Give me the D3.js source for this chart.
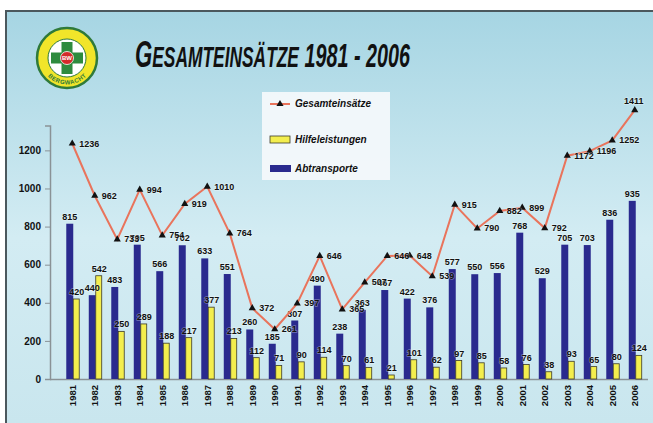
<!DOCTYPE html>
<html>
<head>
<meta charset="utf-8">
<script src="https://cdn.jsdelivr.net/npm/d3@7"></script>
<style>
  body { margin: 0; background: #fff; }
  svg { display: block; }
  .lbl { font-family: "Liberation Sans", Arial, sans-serif; font-weight: bold; font-size: 9px; fill: #111;
         paint-order: stroke; stroke: rgba(255,255,255,0.35); stroke-width: 1.5px; }
</style>
</head>
<body>
<div class="chart"></div>
<script>
const years = ['1981','1982','1983','1984','1985','1986','1987','1988','1989','1990','1991','1992','1993',
               '1994','1995','1996','1997','1998','1999','2000','2001','2002','2003','2004','2005','2006'];
const gesamt = [1236, 962, 733, 994, 754, 919, 1010, 764, 372, 261, 397, 646, 365,
                507, 646, 648, 539, 915, 790, 882, 899, 792, 1172, 1196, 1252, 1411];
const hilfe = [420, 542, 250, 289, 188, 217, 377, 213, 112, 71, 90, 114, 70,
               61, 21, 101, 62, 97, 85, 58, 76, 38, 93, 65, 80, 124];
const abtransport = [815, 440, 483, 705, 566, 702, 633, 551, 260, 185, 307, 490, 238,
                     363, 467, 422, 376, 577, 550, 556, 768, 529, 705, 703, 836, 935];
const yTicks = [0, 200, 400, 600, 800, 1000, 1200];
const legendNames = ['Gesamteinsätze', 'Hilfeleistungen', 'Abtransporte'];

const W = 653, H = 423;
const svg = d3.select('.chart').append('svg').attr('width', W).attr('height', H);

// background gradient
const defs = svg.append('defs');
const grad = defs.append('linearGradient').attr('id', 'bg').attr('x1', 0).attr('y1', 0).attr('x2', 0).attr('y2', 1);
grad.append('stop').attr('offset', '0%').attr('stop-color', '#a6d5e3');
grad.append('stop').attr('offset', '55%').attr('stop-color', '#d3ecf3');
grad.append('stop').attr('offset', '100%').attr('stop-color', '#c9e6ee');

svg.append('rect').attr('x', 6).attr('y', 11).attr('width', W - 6).attr('height', H - 11).attr('fill', 'url(#bg)');
svg.append('path').attr('d', `M6,${H} L6,11 L${W},11`).attr('fill', 'none').attr('stroke', '#4b585d').attr('stroke-width', 2);

// logo
const logo = svg.append('g').attr('transform', 'translate(67,58)');
logo.append('circle').attr('r', 30).attr('fill', '#f1e52a').attr('stroke', '#2f7a3a').attr('stroke-width', 2.5);
logo.append('circle').attr('r', 19).attr('fill', '#fff').attr('stroke', '#2f7a3a').attr('stroke-width', 1);
logo.append('rect').attr('x', -5.5).attr('y', -16).attr('width', 11).attr('height', 32).attr('fill', '#2e8b3e');
logo.append('rect').attr('x', -16).attr('y', -5.5).attr('width', 32).attr('height', 11).attr('fill', '#2e8b3e');
logo.append('circle').attr('r', 6.5).attr('fill', '#d42a2a').attr('stroke', '#fff').attr('stroke-width', 0.8);
logo.append('text').attr('text-anchor', 'middle').attr('y', 2.2).attr('fill', '#fff')
  .style('font', 'bold 6px "Liberation Sans", Arial, sans-serif').text('BW');
defs.append('path').attr('id', 'arc').attr('d', 'M-24,0 A24,24 0 0,0 24,0');
logo.append('text').attr('fill', '#2f7a3a').style('font', 'bold 6px "Liberation Sans", Arial, sans-serif')
  .attr('dy', 2.5)
  .append('textPath').attr('href', '#arc').attr('startOffset', '50%').attr('text-anchor', 'middle').text('BERGWACHT');

// title (condensed to fit the width it has in the picture)
const title = svg.append('text').attr('x', 135).attr('y', 67)
  .attr('textLength', 275).attr('lengthAdjust', 'spacingAndGlyphs')
  .style('font-family', '"Liberation Sans", Arial, sans-serif')
  .style('font-weight', 'bold').style('font-style', 'italic').attr('fill', '#111');
title.append('tspan').style('font-size', '37px').text('G');
title.append('tspan').style('font-size', '29px').text('ESAMTEINSÄTZE');
title.append('tspan').style('font-size', '33px').text(' 1981 - 2006');

// scales
const x = d3.scaleBand().domain(years).range([62, 647]).paddingInner(0.38).paddingOuter(0.19);
const x1 = d3.scaleBand().domain(['abt', 'hilfe']).range([0, x.bandwidth()]);
const y = d3.scaleLinear().domain([0, 1330]).range([379, 125.6]);

// axes
const yAxis = svg.append('g').attr('transform', 'translate(50,0)')
  .call(d3.axisLeft(y).tickValues(yTicks).tickFormat(d3.format('d')).tickSize(5).tickPadding(4));
yAxis.select('.domain').attr('stroke', '#8a9296').attr('stroke-width', 1.5);
yAxis.selectAll('.tick line').attr('stroke', '#8a9296');
yAxis.selectAll('.tick text').attr('fill', '#111')
  .style('font', 'bold 10px "Liberation Sans", Arial, sans-serif');

const xAxis = svg.append('g').attr('transform', 'translate(0,379)')
  .call(d3.axisBottom(x).tickSize(0).tickPadding(6));
xAxis.select('.domain').attr('d', 'M50,0.5H648').attr('stroke', '#8a9296').attr('stroke-width', 1.5);
xAxis.selectAll('.tick text')
  .attr('transform', 'rotate(-90)').attr('text-anchor', 'end').attr('x', -6).attr('y', -1).attr('dy', '0.35em')
  .attr('fill', '#111').style('font', 'bold 9.5px "Liberation Sans", Arial, sans-serif');

// bars
const groups = svg.append('g').selectAll('g').data(years).join('g')
  .attr('transform', d => `translate(${x(d)},0)`);
groups.append('rect')
  .attr('x', x1('abt')).attr('width', x1.bandwidth())
  .attr('y', (d, i) => y(abtransport[i])).attr('height', (d, i) => y(0) - y(abtransport[i]))
  .attr('fill', '#2a2a8e');
groups.append('rect')
  .attr('x', x1('hilfe')).attr('width', x1.bandwidth() - 1)
  .attr('y', (d, i) => y(hilfe[i])).attr('height', (d, i) => y(0) - y(hilfe[i]))
  .attr('fill', '#f3ee4e').attr('stroke', '#3a3a2a').attr('stroke-width', 0.8);

groups.append('text').attr('class', 'lbl').attr('text-anchor', 'middle')
  .attr('x', x1('abt') + x1.bandwidth() / 2).attr('y', (d, i) => y(abtransport[i]) - 4)
  .text((d, i) => abtransport[i]);
groups.append('text').attr('class', 'lbl').attr('text-anchor', 'middle')
  .attr('x', x1('hilfe') + x1.bandwidth() / 2).attr('y', (d, i) => y(hilfe[i]) - 4)
  .text((d, i) => hilfe[i]);

// line
const cx = d => x(d) + x.bandwidth() / 2 - 1;
const line = d3.line().x((d, i) => cx(years[i])).y(d => y(d));
svg.append('path').datum(gesamt).attr('d', line)
  .attr('fill', 'none').attr('stroke', '#e9745c').attr('stroke-width', 2);
svg.append('g').selectAll('path').data(gesamt).join('path')
  .attr('transform', (d, i) => `translate(${cx(years[i])},${y(d)})`)
  .attr('d', d3.symbol(d3.symbolTriangle).size(22)).attr('fill', '#111');
const last = gesamt.length - 1;
svg.append('g').selectAll('text').data(gesamt).join('text').attr('class', 'lbl')
  .attr('text-anchor', (d, i) => i === last ? 'middle' : 'start')
  .attr('x', (d, i) => i === last ? cx(years[i]) - 1 : cx(years[i]) + 7)
  .attr('y', (d, i) => i === last ? y(d) - 6 : y(d) + 3)
  .text(d => d);

// legend
const lg = svg.append('g');
lg.append('rect').attr('x', 262).attr('y', 92).attr('width', 128).attr('height', 88)
  .attr('fill', '#f5f9fb').attr('opacity', 0.92);
lg.append('line').attr('x1', 270).attr('x2', 290).attr('y1', 104).attr('y2', 104)
  .attr('stroke', '#e9745c').attr('stroke-width', 2);
lg.append('path').attr('transform', 'translate(280,104)').attr('d', d3.symbol(d3.symbolTriangle).size(22)).attr('fill', '#111');
lg.append('rect').attr('x', 270).attr('y', 136).attr('width', 20).attr('height', 7)
  .attr('fill', '#f3ee4e').attr('stroke', '#3a3a2a').attr('stroke-width', 0.8);
lg.append('rect').attr('x', 270).attr('y', 165).attr('width', 21).attr('height', 7).attr('fill', '#2a2a8e');
lg.selectAll('text.leg').data(legendNames).join('text').attr('class', 'leg')
  .attr('x', 295).attr('y', (d, i) => [107, 143, 172][i])
  .style('font', 'italic bold 10px "Liberation Sans", Arial, sans-serif').attr('fill', '#111')
  .text(d => d);
</script>
</body>
</html>
